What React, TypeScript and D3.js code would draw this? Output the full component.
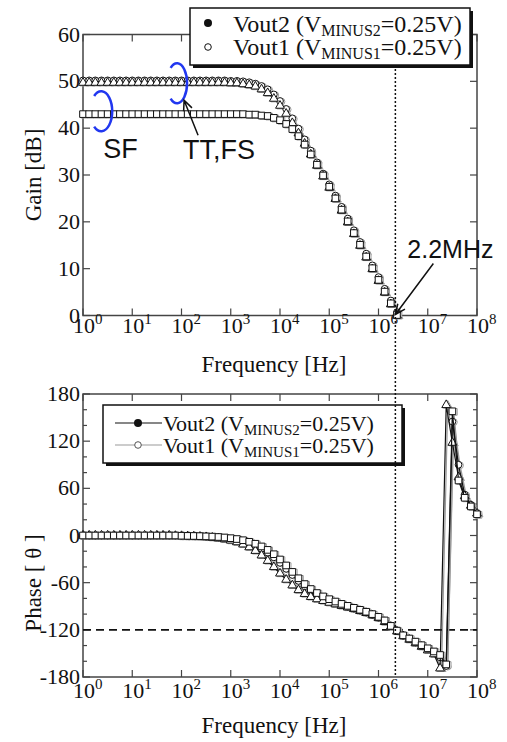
import React from 'react';
import * as d3 from 'd3';

// log10 of the sampled frequencies (Hz)
const freqExp = [
  0, 0.125, 0.25, 0.375, 0.5, 0.625, 0.75, 0.875, 1, 1.125, 1.25, 1.375, 1.5, 1.625, 1.75, 1.875,
  2, 2.125, 2.25, 2.375, 2.5, 2.625, 2.75, 2.875, 3, 3.125, 3.25, 3.375, 3.5, 3.625, 3.75, 3.875,
  4, 4.125, 4.25, 4.375, 4.5, 4.625, 4.75, 4.875, 5, 5.125, 5.25, 5.375, 5.5, 5.625, 5.75, 5.875,
  6, 6.125, 6.25, 6.375, 6.5, 6.625, 6.75, 6.875, 7, 7.125, 7.25, 7.375, 7.5, 7.625, 7.75, 7.875, 8,
];

// Gain [dB] (first 52 frequencies)
const gainTT = [
  50.2, 50.2, 50.2, 50.2, 50.2, 50.2, 50.2, 50.2, 50.2, 50.2, 50.2, 50.2, 50.2, 50.2, 50.2, 50.2,
  50.2, 50.2, 50.2, 50.2, 50.2, 50.2, 50.2, 50.2, 50.1, 50.1, 50.0, 49.8, 49.5, 49.0, 48.3, 47.2,
  45.8, 44.1, 42.1, 39.9, 37.6, 35.2, 32.7, 30.3, 28.0, 25.6, 23.2, 20.7, 18.2, 15.7, 13.2, 10.7,
  8.2, 5.7, 3.2, 0.7,
];
const gainFS = [
  49.7, 49.7, 49.7, 49.7, 49.7, 49.7, 49.7, 49.7, 49.7, 49.7, 49.7, 49.7, 49.7, 49.7, 49.7, 49.7,
  49.7, 49.7, 49.7, 49.7, 49.7, 49.7, 49.7, 49.7, 49.6, 49.6, 49.4, 49.2, 48.9, 48.3, 47.5, 46.3,
  44.8, 43.1, 41.1, 38.9, 36.7, 34.4, 32.0, 29.7, 27.3, 24.9, 22.4, 19.9, 17.4, 14.9, 12.4, 9.9,
  7.4, 4.9, 2.4, 0.0,
];
const gainSF = [
  43.0, 43.0, 43.0, 43.0, 43.0, 43.0, 43.0, 43.0, 43.0, 43.0, 43.0, 43.0, 43.0, 43.0, 43.0, 43.0,
  43.0, 43.0, 43.0, 43.0, 43.0, 43.0, 43.0, 43.0, 43.0, 43.0, 43.0, 42.9, 42.9, 42.7, 42.6, 42.2,
  41.7, 40.9, 39.8, 38.3, 36.5, 34.4, 32.2, 29.9, 27.5, 25.0, 22.6, 20.1, 17.6, 15.1, 12.6, 10.1,
  7.6, 5.1, 2.6, 0.1,
];

// Phase [deg] (all 65 frequencies)
const phaseTT = [
  0, 0, 0, 0, 0, 0, 0, 0, 0, 0, 0, 0, 0, 0, 0, -0.5,
  -0.6, -0.9, -1.1, -1.5, -2.0, -2.7, -3.6, -4.8, -6.4, -8.5, -11.3, -14.9, -19.5, -25.3, -32.2, -40.1,
  -48.3, -56.2, -63.4, -69.4, -74.3, -78.1, -81.0, -83.2, -85.5, -87.5, -89.5, -91.5, -93.5, -96, -98.5, -101.5,
  -105, -110, -116, -122, -128, -132.5, -137, -141.5, -146, -151, -169, 166, 118, 74, 50, 38, 28,
];
const phaseFS = [
  0, 0, 0, 0, 0, 0, 0, 0, 0, 0, 0, 0, 0, 0, 0, 0,
  -0.4, -0.6, -0.8, -1.0, -1.4, -1.8, -2.4, -3.1, -4.2, -5.6, -7.4, -9.8, -12.8, -16.8, -21.8, -27.8,
  -34.8, -42.4, -50.2, -57.8, -64.6, -70.2, -74.8, -78.6, -82, -85, -88, -90.5, -93, -95.5, -98, -101,
  -104.5, -109, -115.5, -121.5, -127.5, -131.5, -136, -140.5, -144.5, -149, -155, -166, 145, 90, 52, 39, 28,
];
const phaseSF = [
  0, 0, 0, 0, 0, 0, 0, 0, 0, 0, 0, 0, 0, 0, 0, 0,
  -0.3, -0.5, -0.6, -0.8, -1.1, -1.4, -1.9, -2.5, -3.4, -4.5, -6.0, -8.0, -10.5, -13.9, -18.3, -23.8,
  -30.5, -38.1, -46.3, -54.4, -61.8, -68.1, -73.2, -77.5, -81, -84, -87, -89.5, -92, -94.5, -97, -100,
  -103.5, -108, -115, -121, -127, -131, -135, -139.5, -143.5, -147.5, -152, -164, 158, 70, 48, 37, 27,
];

const decadeExps = [0, 1, 2, 3, 4, 5, 6, 7, 8];
const gainTicks = [0, 10, 20, 30, 40, 50, 60];
const phaseTicks = [-180, -120, -60, 0, 60, 120, 180];
const phaseMinor = [-160, -140, -100, -80, -40, -20, 20, 40, 80, 100, 140, 160];
const legendNames = ['Vout2', 'Vout1'];
const legendSubs = ['MINUS2', 'MINUS1'];
const legendValue = '=0.25V)';
const crossoverHz = 2.2e6;
const phaseRef = -120;

const SERIF = "'Liberation Serif', 'Times New Roman', serif";
const SANS = "'Liberation Sans', Arial, sans-serif";
const BLUE = '#2137f0';
const GRAY = '#9a9a9a';
const AXIS = '#444';

const X0 = 83;
const X1 = 477;
const x = d3.scaleLog().domain([1, 1e8]).range([X0, X1]);
const yGain = d3.scaleLinear().domain([0, 60]).range([315.5, 34.5]);
const yPhase = d3.scaleLinear().domain([-180, 180]).range([677, 394]);

const gainSeries = [
  { vals: gainTT, type: d3.symbolCircle, size: 36 },
  { vals: gainFS, type: d3.symbolTriangle, size: 34 },
  { vals: gainSF, type: d3.symbolSquare, size: 44 },
];
const phaseSeries = [
  { vals: phaseFS, type: d3.symbolCircle, size: 36 },
  { vals: phaseTT, type: d3.symbolTriangle, size: 34 },
  { vals: phaseSF, type: d3.symbolSquare, size: 44 },
];

function arrow(x1: number, y1: number, x2: number, y2: number, len = 11, ang = 0.42) {
  const a = Math.atan2(y2 - y1, x2 - x1);
  const p1 = [x2 - len * Math.cos(a - ang), y2 - len * Math.sin(a - ang)];
  const p2 = [x2 - len * Math.cos(a + ang), y2 - len * Math.sin(a + ang)];
  return `M${x1},${y1}L${x2},${y2}M${p1[0]},${p1[1]}L${x2},${y2}L${p2[0]},${p2[1]}`;
}

function bracket(cx: number, cy: number, rx: number, ry: number) {
  const a0 = (-130 * Math.PI) / 180;
  const a1 = (130 * Math.PI) / 180;
  const sx = cx + rx * Math.cos(a0), sy = cy + ry * Math.sin(a0);
  const ex = cx + rx * Math.cos(a1), ey = cy + ry * Math.sin(a1);
  return `M${sx},${sy}A${rx},${ry} 0 1 1 ${ex},${ey}`;
}

function Markers({ vals, type, size, y, stroke }: any) {
  const path = d3.symbol().type(type).size(size)() as string;
  return (
    <g>
      {vals.map((v: number, i: number) => (
        <path
          key={i}
          d={path}
          transform={`translate(${x(Math.pow(10, freqExp[i]))},${y(v)})`}
          fill="white"
          stroke={stroke}
          strokeWidth={1}
        />
      ))}
    </g>
  );
}

function Frame({ y0, y1, yTicks, yMinor, yScale, labelBaseline }: any) {
  return (
    <g>
      <rect x={X0} y={y1} width={X1 - X0} height={y0 - y1} fill="none" stroke={AXIS} strokeWidth={1.5} />
      {decadeExps.map((e) => {
        const xx = x(Math.pow(10, e));
        return (
          <g key={e}>
            <line x1={xx} x2={xx} y1={y0} y2={y0 - 7} stroke={AXIS} strokeWidth={1.2} />
            <line x1={xx} x2={xx} y1={y1} y2={y1 + 7} stroke={AXIS} strokeWidth={1.2} />
            <text x={xx - 10} y={labelBaseline} fontFamily={SERIF} fontSize={22} fill="#111">
              10
              <tspan dy={-9} fontSize={15}>{e}</tspan>
            </text>
          </g>
        );
      })}
      {yTicks.map((t: number) => {
        const yy = yScale(t);
        return (
          <g key={t}>
            <line x1={X0} x2={X0 + 7} y1={yy} y2={yy} stroke={AXIS} strokeWidth={1.2} />
            <line x1={X1} x2={X1 - 7} y1={yy} y2={yy} stroke={AXIS} strokeWidth={1.2} />
            <text x={80} y={yy + 7} textAnchor="end" fontFamily={SERIF} fontSize={22} fill="#111">
              {t}
            </text>
          </g>
        );
      })}
      {yMinor.map((t: number) => {
        const yy = yScale(t);
        return (
          <g key={'m' + t}>
            <line x1={X0} x2={X0 + 4} y1={yy} y2={yy} stroke={AXIS} strokeWidth={1.2} />
            <line x1={X1} x2={X1 - 4} y1={yy} y2={yy} stroke={AXIS} strokeWidth={1.2} />
          </g>
        );
      })}
    </g>
  );
}

function LegendText({ x0, y0, i, big, small }: any) {
  return (
    <text x={x0} y={y0} fontFamily={SERIF} fontSize={big} fill="#111">
      {legendNames[i]} (V
      <tspan dy={4} fontSize={small}>{legendSubs[i]}</tspan>
      <tspan dy={-4} fontSize={big}>{legendValue}</tspan>
    </text>
  );
}

export default function App() {
  const xc = x(crossoverHz);
  const sfCx = x(Math.pow(10, 0.37));
  const sfCy = yGain(43.6);
  const ttCx = x(Math.pow(10, 1.91));
  const ttCy = yGain(49.6);
  const line = (vals: number[]) =>
    d3.line<number>()
      .x((_, i) => x(Math.pow(10, freqExp[i])))
      .y((v) => yPhase(v))(vals) as string;

  return (
    <svg width={507} height={742} style={{ position: 'absolute', left: 0, top: 0, background: 'white' }}>
      <rect x={0} y={0} width={507} height={742} fill="white" />

      {/* ---------- Gain plot ---------- */}
      <Frame y0={315.5} y1={34.5} yTicks={gainTicks} yMinor={[]} yScale={yGain} labelBaseline={333} />
      <g transform="translate(1.5,0.6)">
        {gainSeries.map((s, k) => (
          <Markers key={k} vals={s.vals} type={s.type} size={s.size} y={yGain} stroke={GRAY} />
        ))}
      </g>
      {gainSeries.map((s, k) => (
        <Markers key={k} vals={s.vals} type={s.type} size={s.size} y={yGain} stroke="#111" />
      ))}

      {/* annotations */}
      <path d={bracket(sfCx, sfCy, 11, 20)} fill="none" stroke={BLUE} strokeWidth={2.5} />
      <path d={bracket(ttCx, ttCy, 10, 20)} fill="none" stroke={BLUE} strokeWidth={2.5} />
      <text x={sfCx + 2} y={sfCy + 47} fontFamily={SANS} fontSize={27} fill="#111">SF</text>
      <text x={ttCx + 6} y={ttCy + 76} fontFamily={SANS} fontSize={27} fill="#111">TT,FS</text>
      <path d={arrow(ttCx + 21, ttCy + 52, ttCx + 7, ttCy + 17)} fill="none" stroke="#111" strokeWidth={1.5} />
      <text x={xc + 12} y={yGain(0) - 58} fontFamily={SANS} fontSize={25} fill="#111">2.2MHz</text>
      <path d={arrow(xc + 38, yGain(0) - 52, xc, yGain(0) - 1)} fill="none" stroke="#111" strokeWidth={1.5} />

      <text x={274} y={372} textAnchor="middle" fontFamily={SERIF} fontSize={23} fill="#111">Frequency [Hz]</text>
      <text transform="translate(41,175) rotate(-90)" textAnchor="middle" fontFamily={SERIF} fontSize={23} fill="#111">
        Gain [dB]
      </text>

      {/* top legend */}
      <rect x={193} y={11} width={280} height={57} fill="#111" />
      <rect x={190} y={8} width={280} height={57} fill="white" stroke="#111" strokeWidth={1.5} />
      <circle cx={208} cy={23} r={4} fill="#111" />
      <circle cx={208} cy={47} r={3.3} fill="white" stroke="#111" strokeWidth={1} />
      <LegendText x0={233} y0={32} i={0} big={24} small={16} />
      <LegendText x0={233} y0={55} i={1} big={24} small={16} />

      {/* ---------- Phase plot ---------- */}
      <Frame y0={677} y1={394} yTicks={phaseTicks} yMinor={phaseMinor} yScale={yPhase} labelBaseline={698} />
      <line x1={X0} x2={X1} y1={yPhase(phaseRef)} y2={yPhase(phaseRef)} stroke="#111" strokeWidth={1.8} strokeDasharray="8,5" />
      <g transform="translate(1.5,0.6)">
        {phaseSeries.map((s, k) => (
          <g key={k}>
            <path d={line(s.vals)} fill="none" stroke={GRAY} strokeWidth={1.2} />
            <Markers vals={s.vals} type={s.type} size={s.size} y={yPhase} stroke={GRAY} />
          </g>
        ))}
      </g>
      {phaseSeries.map((s, k) => (
        <g key={k}>
          <path d={line(s.vals)} fill="none" stroke="#111" strokeWidth={1.2} />
          <Markers vals={s.vals} type={s.type} size={s.size} y={yPhase} stroke="#111" />
        </g>
      ))}

      <text x={274} y={733} textAnchor="middle" fontFamily={SERIF} fontSize={23} fill="#111">Frequency [Hz]</text>
      <text transform="translate(41,583) rotate(-90)" textAnchor="middle" fontFamily={SERIF} fontSize={23} fill="#111">
        Phase [ θ ]
      </text>

      {/* bottom legend */}
      <rect x={106} y={408} width={299} height={58} fill="#111" />
      <rect x={103} y={405} width={299} height={58} fill="white" stroke="#111" strokeWidth={1.5} />
      <line x1={115} x2={162} y1={423} y2={423} stroke="#111" strokeWidth={1.2} />
      <circle cx={138} cy={423} r={4} fill="#111" />
      <line x1={115} x2={162} y1={445} y2={445} stroke={GRAY} strokeWidth={1.2} />
      <circle cx={138} cy={445} r={3.3} fill="white" stroke="#555" strokeWidth={1} />
      <LegendText x0={163} y0={431} i={0} big={22} small={15} />
      <LegendText x0={163} y0={453} i={1} big={22} small={15} />

      {/* crossover marker line */}
      <line x1={xc} x2={xc} y1={69} y2={677} stroke="#111" strokeWidth={1.5} strokeDasharray="2,2" />
    </svg>
  );
}
